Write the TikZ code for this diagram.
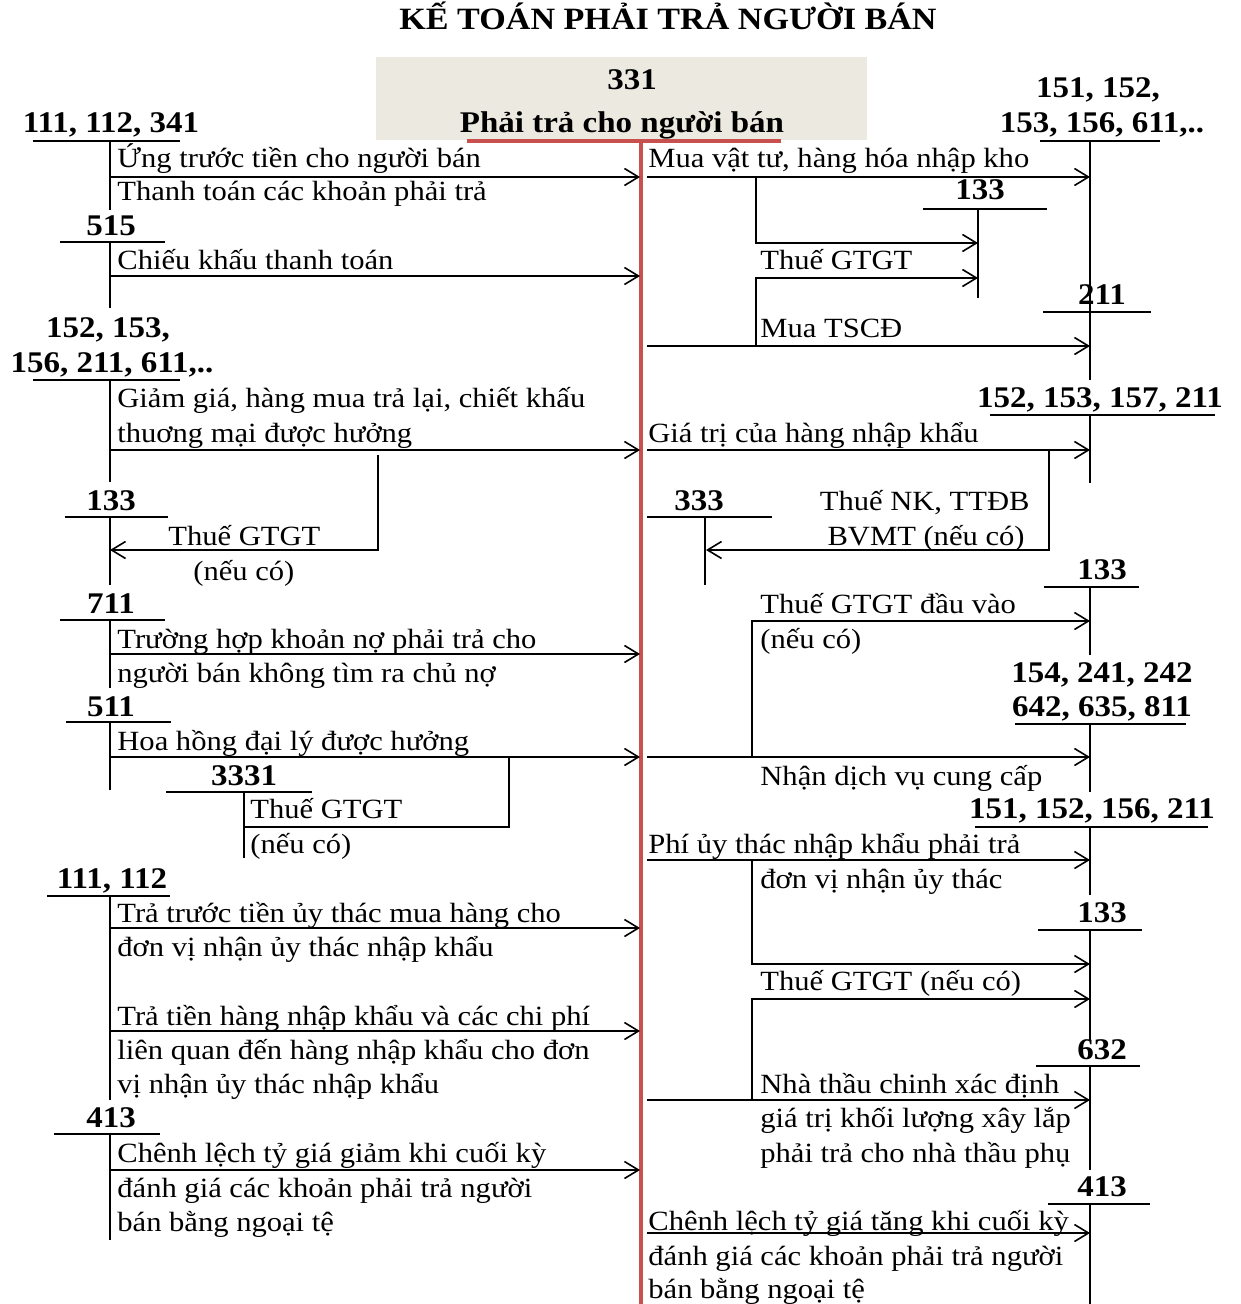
\documentclass[tikz,border=0pt]{standalone}
\usepackage{fontspec}
\setmainfont[FakeStretch=1.1]{Liberation Serif}
\usetikzlibrary{arrows.meta}
\definecolor{boxgray}{RGB}{236,234,224}
\definecolor{redline}{RGB}{200,80,78}
\begin{document}
\begin{tikzpicture}[x=0.5pt,y=-0.5pt,
  txt/.style={font=\fontsize{13.9}{16}\selectfont, anchor=base west, inner sep=0pt},
  txtr/.style={font=\fontsize{13.9}{16}\selectfont, anchor=base east, inner sep=0pt},
  num/.style={font=\fontsize{15}{17}\selectfont\bfseries, anchor=base, inner sep=0pt},
  tline/.style={line width=0.9pt},
  conn/.style={line width=0.9pt},
  arr/.style={line width=0.9pt, -{Straight Barb[length=7pt,width=8.5pt,line width=0.8pt]}},
  red/.style={draw=redline, line width=1.6pt}]
\useasboundingbox (0,0) rectangle (1240,1304);

% title and central account
\node[font=\fontsize{15.5}{18}\selectfont\bfseries, anchor=base, inner sep=0pt] (title) at (668,30) {KẾ TOÁN PHẢI TRẢ NGƯỜI BÁN};
\fill[boxgray] (376,57) rectangle (867,140);
\node[num] (n331) at (632,90) {331};
\node[num] (n331b) at (622,133) {Phải trả cho người bán};
\draw[red] (467,141) -- (781,141);
\draw[red] (641,141) -- (641,1304);

% ================= LEFT SIDE =================
% 111,112,341
\node[num] (L1) at (111,133) {111, 112, 341};
\draw[tline] (33,141) -- (180,141) (110,141) -- (110,210);
\node[txt] (L1a) at (117,168) {Ứng trước tiền cho người bán};
\node[txt] (L1b) at (117,201) {Thanh toán các khoản phải trả};
\coordinate (L1s) at (110,177); \coordinate (L1e) at (640,177);
\draw[arr] (L1s) -- (L1e);

% 515
\node[num] (L2) at (111,236) {515};
\draw[tline] (60,242) -- (165,242) (110,242) -- (110,308);
\node[txt] (L2a) at (117,270) {Chiếu khấu thanh toán};
\coordinate (L2s) at (110,276); \coordinate (L2e) at (640,276);
\draw[arr] (L2s) -- (L2e);

% 152,153,156,211,611
\node[num] (L3) at (108,338) {152, 153,};
\node[num] (L3b) at (112,373) {156, 211, 611,..};
\draw[tline] (33,380) -- (180,380) (110,380) -- (110,482);
\node[txt] (L3c) at (117,408) {Giảm giá, hàng mua trả lại, chiết khấu};
\node[txt] (L3d) at (117,442) {thuơng mại được hưởng};
\coordinate (L3s) at (110,450); \coordinate (L3e) at (640,450);
\draw[arr] (L3s) -- (L3e);
\coordinate (L3br) at (378,455); \coordinate (L4in) at (110,550);
\draw[arr] (L3br) |- (L4in);

% 133
\node[num] (L4) at (111,510) {133};
\draw[tline] (65,517) -- (168,517) (110,517) -- (110,585);
\node[txt] (L4a) at (168,545) {Thuế GTGT};
\node[txt] (L4b) at (193,580) {(nếu có)};

% 711
\node[num] (L5) at (111,613) {711};
\draw[tline] (60,620) -- (165,620) (110,620) -- (110,688);
\node[txt] (L5a) at (117,648) {Trường hợp khoản nợ phải trả cho};
\node[txt] (L5b) at (117,682) {người bán không tìm ra chủ nợ};
\coordinate (L5s) at (110,654); \coordinate (L5e) at (640,654);
\draw[arr] (L5s) -- (L5e);

% 511
\node[num] (L6) at (111,716) {511};
\draw[tline] (66,722) -- (171,722) (110,722) -- (110,790);
\node[txt] (L6a) at (117,750) {Hoa hồng đại lý được hưởng};
\coordinate (L6s) at (110,757); \coordinate (L6e) at (640,757);
\draw[arr] (L6s) -- (L6e);
\coordinate (L6br) at (509,757); \coordinate (L7in) at (245,827);
\draw[conn] (L6br) |- (L7in);

% 3331
\node[num] (L7) at (244,785) {3331};
\draw[tline] (166,792) -- (312,792) (244,792) -- (244,858);
\node[txt] (L7a) at (250,818) {Thuế GTGT};
\node[txt] (L7b) at (250,853) {(nếu có)};

% 111,112
\node[num] (L8) at (112,888) {111, 112};
\draw[tline] (47,896) -- (170,896) (110,896) -- (110,1100);
\node[txt] (L8a) at (117,922) {Trả trước tiền ủy thác mua hàng cho};
\node[txt] (L8b) at (117,956) {đơn vị nhận ủy thác nhập khẩu};
\coordinate (L8s) at (110,928); \coordinate (L8e) at (640,928);
\draw[arr] (L8s) -- (L8e);
\node[txt] (L8c) at (117,1025) {Trả tiền hàng nhập khẩu và các chi phí};
\node[txt] (L8d) at (117,1059) {liên quan đến hàng nhập khẩu cho đơn};
\node[txt] (L8f) at (117,1093) {vị nhận ủy thác nhập khẩu};
\coordinate (L8t) at (110,1031); \coordinate (L8u) at (640,1031);
\draw[arr] (L8t) -- (L8u);

% 413
\node[num] (L9) at (111,1127) {413};
\draw[tline] (54,1134) -- (160,1134) (110,1134) -- (110,1240);
\node[txt] (L9a) at (117,1162) {Chênh lệch tỷ giá giảm khi cuối kỳ};
\node[txt] (L9b) at (117,1197) {đánh giá các khoản phải trả người};
\node[txt] (L9c) at (117,1231) {bán bằng ngoại tệ};
\coordinate (L9s) at (110,1170); \coordinate (L9e) at (640,1170);
\draw[arr] (L9s) -- (L9e);

% ================= RIGHT SIDE =================
% 151,152,153,156,611
\node[num] (R1) at (1098,98) {151, 152,};
\node[num] (R1b) at (1102,133) {153, 156, 611,..};
\draw[tline] (1040,141) -- (1160,141) (1090,141) -- (1090,322);
\node[txt] (R1a) at (648,168) {Mua vật tư, hàng hóa nhập kho};
\coordinate (R1s) at (647,177); \coordinate (R1e) at (1090,177);
\draw[arr] (R1s) -- (R1e);
\coordinate (R1br) at (756,177); \coordinate (R2in) at (978,243);
\draw[arr] (R1br) |- (R2in);

% 133
\node[num] (R2) at (980,200) {133};
\draw[tline] (923,209) -- (1047,209) (978,209) -- (978,298);
\node[txt] (R2a) at (760,270) {Thuế GTGT};
\coordinate (R3br) at (756,346); \coordinate (R2in2) at (978,278);
\draw[arr] (R3br) |- (R2in2);

% 211
\node[num] (R3) at (1102,305) {211};
\draw[tline] (1043,312) -- (1151,312) (1090,312) -- (1090,380);
\node[txt] (R3a) at (760,338) {Mua TSCĐ};
\coordinate (R3s) at (647,346); \coordinate (R3e) at (1090,346);
\draw[arr] (R3s) -- (R3e);

% 152,153,157,211
\node[num] (R4) at (1100,408) {152, 153, 157, 211};
\draw[tline] (990,415) -- (1215,415) (1090,415) -- (1090,483);
\node[txt] (R4a) at (648,442) {Giá trị của hàng nhập khẩu};
\coordinate (R4s) at (647,450); \coordinate (R4e) at (1090,450);
\draw[arr] (R4s) -- (R4e);
\coordinate (R4br) at (1049,450); \coordinate (R5in) at (706,550);
\draw[arr] (R4br) |- (R5in);

% 333
\node[num] (R5) at (699,510) {333};
\draw[tline] (647,517) -- (772,517) (705,517) -- (705,585);
\node[txtr] (R5a) at (1030,510) {Thuế NK, TTĐB};
\node[txtr] (R5b) at (1025,545) {BVMT (nếu có)};

% 133
\node[num] (R6) at (1102,579) {133};
\draw[tline] (1044,587) -- (1139,587) (1090,587) -- (1090,655);
\node[txt] (R6a) at (760,613) {Thuế GTGT đầu vào};
\node[txt] (R6b) at (760,648) {(nếu có)};
\coordinate (R7br) at (752,757); \coordinate (R6in) at (1090,621);
\draw[arr] (R7br) |- (R6in);

% 154,241,242,642,635,811
\node[num] (R7) at (1102,682) {154, 241, 242};
\node[num] (R7b) at (1102,716) {642, 635, 811};
\draw[tline] (1015,724) -- (1186,724) (1090,724) -- (1090,792);
\coordinate (R7s) at (647,757); \coordinate (R7e) at (1090,757);
\draw[arr] (R7s) -- (R7e);
\node[txt] (R7a) at (760,785) {Nhận dịch vụ cung cấp};

% 151,152,156,211
\node[num] (R8) at (1092,818) {151, 152, 156, 211};
\draw[tline] (975,827) -- (1208,827) (1090,827) -- (1090,895);
\node[txt] (R8a) at (648,853) {Phí ủy thác nhập khẩu phải trả};
\node[txt] (R8b) at (760,888) {đơn vị nhận ủy thác};
\coordinate (R8s) at (647,860); \coordinate (R8e) at (1090,860);
\draw[arr] (R8s) -- (R8e);
\coordinate (R8br) at (752,860); \coordinate (R9in) at (1090,964);
\draw[arr] (R8br) |- (R9in);

% 133
\node[num] (R9) at (1102,922) {133};
\draw[tline] (1038,930) -- (1142,930) (1090,930) -- (1090,1040);
\node[txt] (R9a) at (760,990) {Thuế GTGT (nếu có)};
\coordinate (R10br) at (752,1100); \coordinate (R9in2) at (1090,999);
\draw[arr] (R10br) |- (R9in2);

% 632
\node[num] (R10) at (1102,1059) {632};
\draw[tline] (1036,1066) -- (1140,1066) (1090,1066) -- (1090,1170);
\coordinate (R10s) at (647,1100); \coordinate (R10e) at (1090,1100);
\draw[arr] (R10s) -- (R10e);
\node[txt] (R10a) at (760,1093) {Nhà thầu chinh xác định};
\node[txt] (R10b) at (760,1127) {giá trị khối lượng xây lắp};
\node[txt] (R10c) at (760,1162) {phải trả cho nhà thầu phụ};

% 413
\node[num] (R11) at (1102,1196) {413};
\draw[tline] (1048,1204) -- (1150,1204) (1090,1204) -- (1090,1304);
\node[txt] (R11a) at (648,1230) {Chênh lệch tỷ giá tăng khi cuối kỳ};
\node[txt] (R11b) at (648,1265) {đánh giá các khoản phải trả người};
\node[txt] (R11c) at (648,1298) {bán bằng ngoại tệ};
\coordinate (R11s) at (647,1233); \coordinate (R11e) at (1090,1233);
\draw[arr] (R11s) -- (R11e);
\end{tikzpicture}
\end{document}
